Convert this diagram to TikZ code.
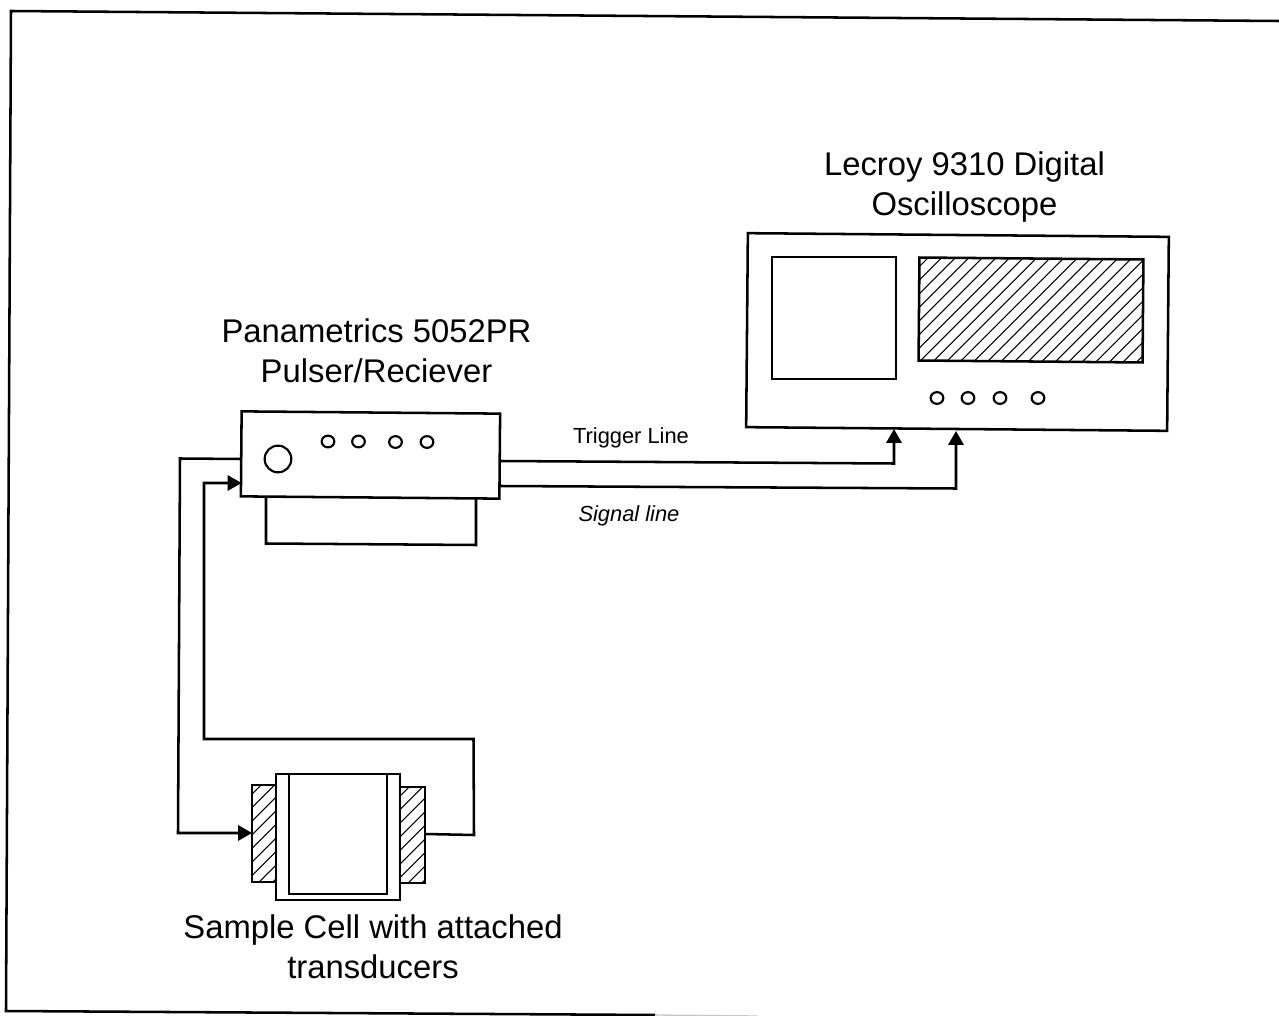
\documentclass[tikz,border=0pt]{standalone}
\usepackage{fontspec}
\setmainfont{Liberation Sans}
\usetikzlibrary{arrows.meta,shapes.geometric}
\tikzset{
  x=0.75pt,y=-0.75pt,
  line join=miter,
  ln/.style={line width=1.9pt,black},
  hatchln/.style={line width=0.8pt,black},
  box/.style={draw=black,line width=1.9pt,rectangle,inner sep=0pt,outer sep=0pt},
  knob/.style={draw=black,line width=1.6pt,ellipse,inner sep=0pt,outer sep=0pt,minimum width=9.5pt,minimum height=8.8pt},
  bigtext/.style={align=center,font=\fontsize{24.6}{30}\selectfont,inner sep=0pt},
  smalltext/.style={font=\fontsize{16.4}{20}\selectfont,inner sep=0pt},
  tip/.style={-{Triangle[length=10.5pt,width=11.5pt]}},
}
\begin{document}
\begin{tikzpicture}
\useasboundingbox (0,0) rectangle (1279,1016);
\fill[white] (0,0) rectangle (1279,1016);
% open frame: top, left and bottom edges only
\coordinate (ftl) at (11,11);
\coordinate (ftr) at (1279,21);
\coordinate (fbl) at (6,1011);
\coordinate (fbr) at (655,1015);
\coordinate (fbe) at (757,1016);
\draw[ln] (ftr) -- (ftl) -- (fbl) -- (fbr);
\draw[line width=1pt,black!22] (fbr) -- (fbe);

% oscilloscope
\begin{scope}
\clip (919,258) -- (1143,260) -- (1143,363) -- (919,360.5) -- cycle;
\foreach \k in {0,...,26} \draw[hatchln] (919+\k*13.6,362) -- ++(120,-120);
\foreach \k in {1,...,9} \draw[hatchln] (919-\k*13.6,362) -- ++(120,-120);
\end{scope}
\node[box,rotate=-0.5,minimum width=421*0.75pt,minimum height=194*0.75pt] (osc) at (957.5,332) {};
\node[box,minimum width=124*0.75pt,minimum height=122*0.75pt] (oscleft) at (834,318) {};
\node[box,rotate=-0.5,minimum width=224*0.75pt,minimum height=103*0.75pt] (oscscreen) at (1031,310) {};
\node[knob] (ok1) at (937,398) {};
\node[knob] (ok2) at (968,398) {};
\node[knob] (ok3) at (1000,398) {};
\node[knob] (ok4) at (1038,398) {};
\node[bigtext] (osctitle) at (964.5,187.5) {Lecroy 9310 Digital\\Oscilloscope};

% pulser
\node[box,rotate=-0.5,minimum width=258.5*0.75pt,minimum height=85*0.75pt] (pulser) at (370.5,455) {};
\node[knob,minimum width=20pt,minimum height=20pt] (bigknob) at (278,459) {};
\node[knob] (pk1) at (328,441.5) {};
\node[knob] (pk2) at (358.5,441.5) {};
\node[knob] (pk3) at (395.5,442) {};
\node[knob] (pk4) at (427,442) {};
\node[bigtext] (pulsertitle) at (376.5,351) {Panametrics 5052PR\\Pulser/Reciever};
\coordinate (loopa) at (266,496.5);
\coordinate (loopb) at (476,498.5);
\draw[ln] (loopa) -- (266,543.5) -- (476,545) -- (loopb);

% sample cell
\begin{scope}
\clip (252,785) rectangle (276,882);
\foreach \k in {0,...,9} \draw[hatchln] (252,794+\k*13.6) -- ++(40,-40);
\end{scope}
\begin{scope}
\clip (400,787) rectangle (425,883);
\foreach \k in {0,...,9} \draw[hatchln] (400,796+\k*13.6) -- ++(40,-40);
\end{scope}
\node[box,minimum width=24*0.75pt,minimum height=97*0.75pt] (tl) at (264,833.5) {};
\node[box,minimum width=25*0.75pt,minimum height=96*0.75pt] (tr) at (412.5,835) {};
\node[box,minimum width=124*0.75pt,minimum height=126*0.75pt] (cell) at (338,837) {};
\node[box,minimum width=98*0.75pt,minimum height=120*0.75pt] (cellin) at (338,834) {};
\node[bigtext] (celltitle) at (373,947) {Sample Cell with attached\\transducers};

% connectors
\coordinate (pout) at (241.5,459);
\coordinate (pin) at (241.5,483);
\coordinate (tlin) at (252,833);
\coordinate (trout) at (425,834);
\draw[ln,tip] (pout) -- (180,458.5) -- (178,833) -- (tlin);
\draw[ln,tip] (trout) -- (474,835) -- (473.5,739) -- (204,739) -- (204,483) -- (pin);
\coordinate (tr1) at (500,461);
\coordinate (tr2) at (894,429);
\coordinate (sg1) at (500,486);
\coordinate (sg2) at (956,431);
\draw[ln,tip] (tr1) -- (894,463.5) -- (tr2);
\draw[ln,tip] (sg1) -- (956,488.5) -- (sg2);
\node[smalltext] (trig) at (631,438) {Trigger Line};
\node[smalltext,font=\fontsize{16.4}{20}\selectfont\itshape] (sig) at (629,516) {Signal line};
\end{tikzpicture}
\end{document}
